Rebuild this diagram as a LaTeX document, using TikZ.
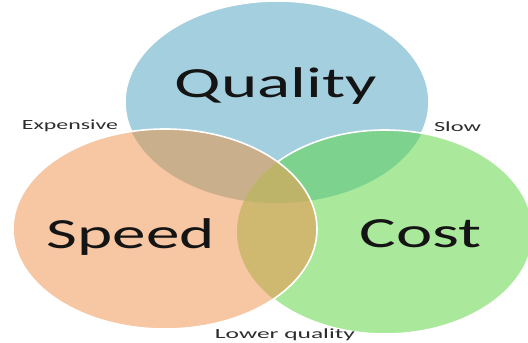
\documentclass[tikz,border=0pt]{standalone}
\usepackage{fontspec}
\setmainfont{Carlito}
\usepackage{graphicx}

% region colours
\definecolor{qualityfill}{RGB}{164,207,222}
\definecolor{speedfill}{RGB}{247,198,162}
\definecolor{costfill}{RGB}{170,233,155}
\definecolor{qsfill}{RGB}{202,175,140}
\definecolor{qcfill}{RGB}{125,211,142}
\definecolor{scfill}{RGB}{207,184,112}
\definecolor{qscfill}{RGB}{190,180,105}
\definecolor{bigtext}{RGB}{20,20,20}
\definecolor{smalltext}{RGB}{45,45,45}

% the three sets
\newcommand{\qualityset}{(277,102) ellipse [x radius=152pt, y radius=101pt]}
\newcommand{\speedset}{(165,229) ellipse [x radius=152pt, y radius=100pt]}
\newcommand{\costset}{(385,232) ellipse [x radius=148pt, y radius=102pt]}

\begin{document}
\begin{tikzpicture}[x=1pt,y=-1pt,
  rim/.style={draw=white, line width=1.6pt},
  bigword/.style={font=\fontsize{43}{43}\selectfont, text=bigtext, inner sep=0pt, anchor=base},
  smallword/.style={font=\fontsize{14}{14}\selectfont, text=smalltext, inner sep=0pt, anchor=base}]
\useasboundingbox (0,0) rectangle (528,343);
\fill[white] (0,0) rectangle (528,343);
\clip (0,0) rectangle (528,343);

% Quality
\fill[qualityfill] \qualityset;
\draw[rim] \qualityset;

% Cost, with its overlap on Quality
\fill[costfill] \costset;
\begin{scope}
  \clip \qualityset;
  \fill[qcfill] \costset;
\end{scope}
\draw[rim] \costset;

% Speed, with its overlaps
\fill[speedfill] \speedset;
\begin{scope}
  \clip \speedset;
  \fill[qsfill] \qualityset;
  \fill[scfill] \costset;
  \clip \qualityset;
  \fill[qscfill] \costset;
\end{scope}
\draw[rim] \speedset;

% set names
\node[bigword] (quality) at (276,97) {\resizebox{202pt}{\height}{Quality}};
\node[bigword] (speed) at (131,248) {\resizebox{168pt}{\height}{Speed}};
\node[bigword] (cost) at (421,247) {\resizebox{122pt}{\height}{Cost}};

% trade-off labels
\node[smallword] (expensive) at (70,129) {\resizebox{96pt}{\height}{Expensive}};
\node[smallword] (slow) at (457.5,131) {\resizebox{47pt}{\height}{Slow}};
\node[smallword] (lower) at (285,338) {\resizebox{140pt}{\height}{Lower quality}};
\end{tikzpicture}
\end{document}
